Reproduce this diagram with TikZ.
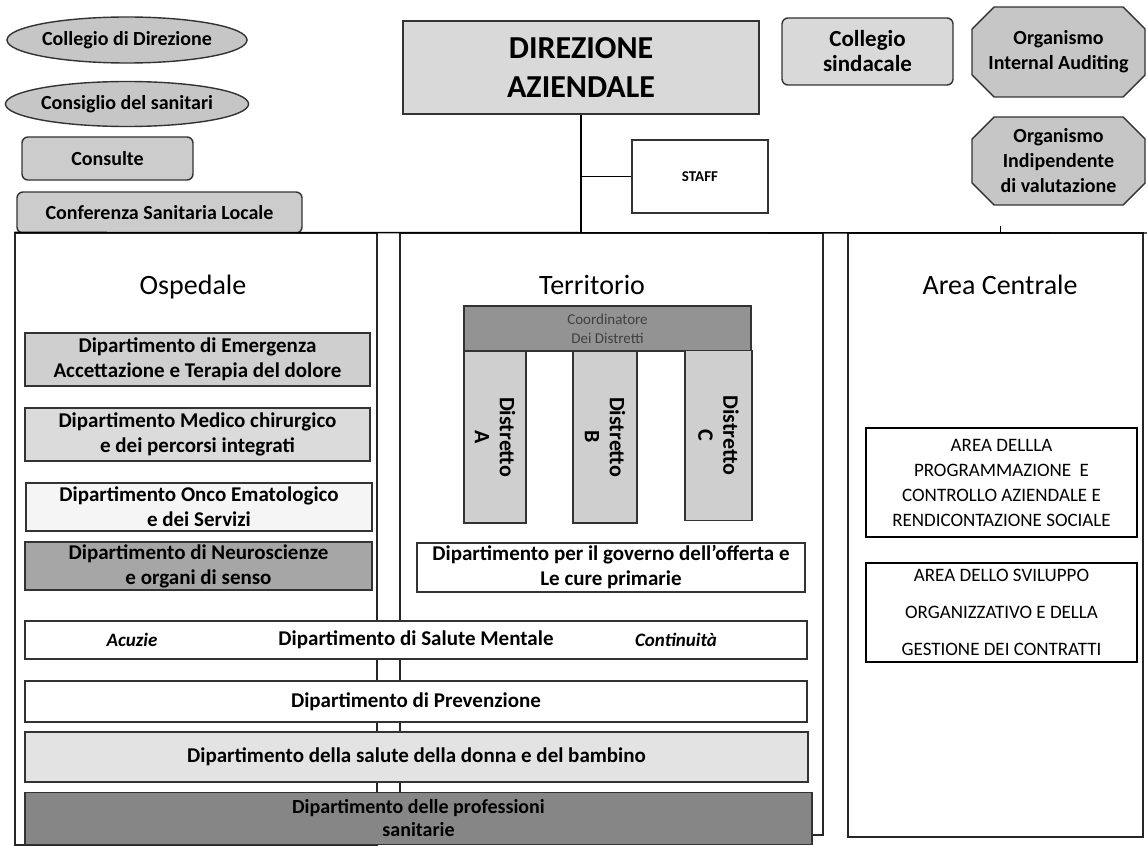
\documentclass[tikz,border=0pt]{standalone}
\usepackage{fontspec}
\setmainfont{Carlito}
\usetikzlibrary{shapes.geometric,shapes.misc}

\tikzset{
  dept/.style={draw=black!80,line width=1.4pt,inner sep=0pt,align=center,font=\bfseries\fontsize{21}{25}\selectfont},
  grp/.style={dept,rounded corners=6pt,font=\bfseries\fontsize{20}{24}\selectfont},
  oval/.style={grp,ellipse},
  octa/.style={dept,chamfered rectangle,chamfered rectangle sep=11pt,font=\bfseries\fontsize{20}{25}\selectfont},
  frame/.style={draw=black!85,line width=1.2pt,inner sep=0pt},
  areabox/.style={draw=black,line width=2.6pt,inner sep=0pt,align=center,font=\fontsize{19}{25}\selectfont},
  coltitle/.style={anchor=base,font=\fontsize{28}{32}\selectfont},
  dist/.style={dept,rotate=-90,fill=gray!38,font=\bfseries\fontsize{22}{25}\selectfont},
  side/.style={font=\bfseries\itshape\fontsize{19}{22}\selectfont}
}

\begin{document}
\begin{tikzpicture}[x=1pt,y=-1pt]
\useasboundingbox (0,0) rectangle (1147,845);

\node[oval,fill=gray!45,minimum width=240,minimum height=46] (coll) at (127,40) {Collegio di Direzione};
\node[oval,fill=gray!45,minimum width=240,minimum height=45] (cons) at (127,104) {Consiglio del sanitari};
\node[grp,fill=gray!40,minimum width=171,minimum height=43] (consulte) at (107.5,158.5) {Consulte};
\node[grp,fill=gray!40,minimum width=285,minimum height=41] (conf) at (159.5,212.5) {Conferenza Sanitaria Locale};

\node[dept,fill=gray!30,minimum width=356,minimum height=93,font=\bfseries\fontsize{32}{39}\selectfont] (dir) at (581,67.5) {DIREZIONE\\AZIENDALE};
\node[dept,minimum width=136,minimum height=73,font=\bfseries\fontsize{15}{18}\selectfont] (staff) at (700,176.5) {STAFF};
\node[grp,fill=gray!30,minimum width=171,minimum height=67,font=\bfseries\fontsize{23}{25}\selectfont] (sind) at (867.5,51.5) {Collegio\\sindacale};
\node[octa,fill=gray!45,minimum width=173,minimum height=90] (audit) at (1058.5,52) {Organismo\\Internal Auditing};
\node[octa,fill=gray!45,minimum width=173,minimum height=88] (oiv) at (1058.5,161) {Organismo\\Indipendente\\di valutazione};

\node[frame,minimum width=362,minimum height=612] (osp) at (196,539) {};
\node[frame,minimum width=423,minimum height=602] (ter) at (611.5,534) {};
\node[frame,minimum width=295,minimum height=604] (cen) at (995.5,535) {};

\coordinate (edge) at (1147,233);
\draw[line width=1.4pt] (osp.north west) -- (edge);
\draw[line width=1.2pt] (dir.south) -- (dir.south |- osp.north);
\draw[line width=1.2pt] (dir.south |- staff.west) -- (staff.west);
\coordinate (tick) at (1000,226);
\draw[line width=1pt] (tick) -- (tick |- cen.north);

\node[coltitle] (ospt) at (193,294) {Ospedale};
\node[coltitle] (tert) at (592,294) {Territorio};
\node[coltitle] (cent) at (1000,294) {Area Centrale};

\node[dept,fill=gray!38,minimum width=345,minimum height=53] (emerg) at (197.5,359.5) {Dipartimento di Emergenza\\Accettazione e Terapia del dolore};
\node[dept,fill=gray!28,minimum width=345,minimum height=53] (medico) at (197.5,434.5) {Dipartimento Medico chirurgico\\e dei percorsi integrati};
\node[dept,fill=gray!8,minimum width=346,minimum height=48] (onco) at (199,507) {Dipartimento Onco Ematologico\\e dei Servizi};
\node[dept,fill=gray!70,minimum width=347,minimum height=48] (neuro) at (198.5,566) {Dipartimento di Neuroscienze\\e organi di senso};

\node[dept,fill=gray!85,text=black!75,minimum width=287,minimum height=45,font=\fontsize{15}{19}\selectfont] (coord) at (607.5,328.5) {Coordinatore\\Dei Distretti};
\node[dist,minimum width=172,minimum height=62] (da) at (495,437) {Distretto\\A};
\node[dist,minimum width=172,minimum height=64] (db) at (605,437) {Distretto\\B};
\node[dist,minimum width=170,minimum height=67] (dc) at (718.5,435.5) {Distretto\\C};
\node[dept,fill=white,minimum width=388,minimum height=49] (gov) at (611,567.5) {Dipartimento per il governo dell'offerta e\\Le cure primarie};

\node[dept,fill=white,minimum width=782,minimum height=38] (sm) at (416,640) {Dipartimento di Salute Mentale};
\node[side] (acu) at (132,640) {Acuzie};
\node[side] (cont) at (676,640) {Continuità};
\node[dept,fill=white,minimum width=782,minimum height=41] (prev) at (416,701.5) {Dipartimento di Prevenzione};
\node[dept,fill=gray!22,minimum width=783,minimum height=50] (donna) at (416.5,757) {Dipartimento della salute della donna e del bambino};
\node[dept,fill=gray!95,minimum width=787,minimum height=52,font=\bfseries\fontsize{20}{23}\selectfont] (prof) at (418.5,818.5) {Dipartimento delle professioni\\sanitarie};

\node[areabox,minimum width=271,minimum height=109] (prog) at (1001.5,482.5) {AREA DELLLA\\PROGRAMMAZIONE\ \ E\\CONTROLLO AZIENDALE E\\RENDICONTAZIONE SOCIALE};
\node[areabox,minimum width=271,minimum height=99,font=\fontsize{19}{37}\selectfont] (svil) at (1001.5,612.5) {AREA DELLO SVILUPPO\\ORGANIZZATIVO E DELLA\\GESTIONE DEI CONTRATTI};
\end{tikzpicture}
\end{document}
